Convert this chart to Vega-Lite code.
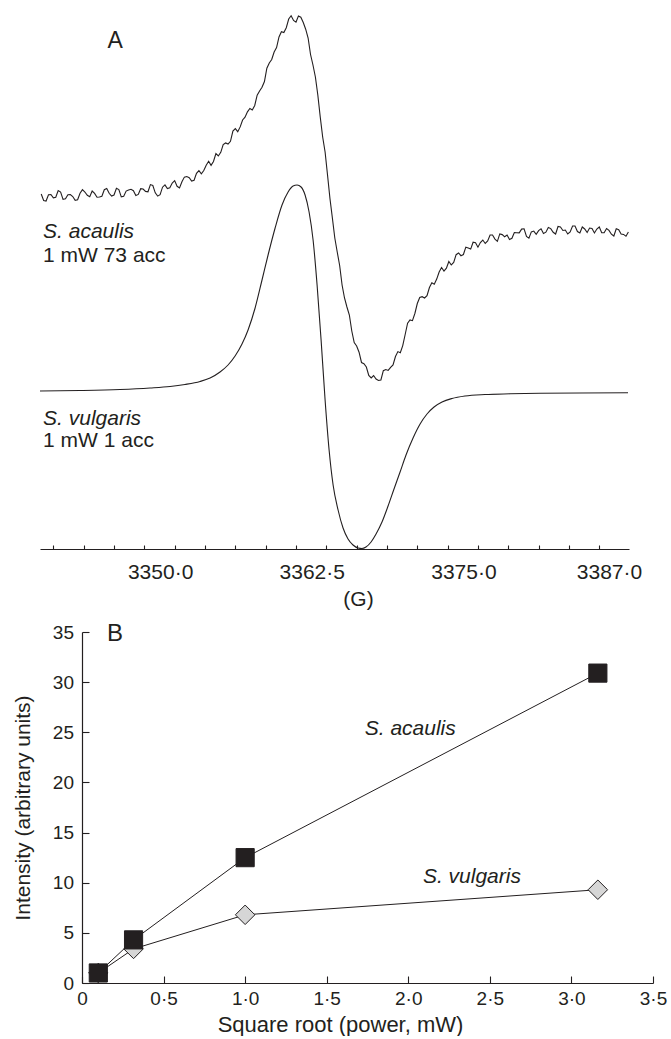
{
  "$schema": "https://vega.github.io/schema/vega-lite/v6.json",
  "background": "white",
  "padding": {"left": 12, "top": 8, "right": 0, "bottom": 0},
  "spacing": 12,
  "config": {
    "view": {"stroke": null},
    "font": "Liberation Sans",
    "text": {"font": "Liberation Sans", "color": "#231f20"},
    "axis": {"labelFont": "Liberation Sans", "titleFont": "Liberation Sans", "domainColor": "#231f20", "tickColor": "#231f20", "labelColor": "#231f20", "titleColor": "#231f20", "grid": false, "titleFontWeight": "normal", "labelFlush": false, "labelOverlap": false, "domainWidth": 1.2, "tickWidth": 1.1}
  },
  "datasets": {
    "acaulis": [
      {"G": 3340.2, "signal": 355}, {"G": 3340.4, "signal": 348.5}, {"G": 3340.6, "signal": 348}, {"G": 3340.8, "signal": 354.2},
      {"G": 3341.0, "signal": 354.5}, {"G": 3341.2, "signal": 351.1}, {"G": 3341.4, "signal": 351.7}, {"G": 3341.6, "signal": 358.4},
      {"G": 3341.8, "signal": 357}, {"G": 3342.0, "signal": 349.6}, {"G": 3342.2, "signal": 350.2}, {"G": 3342.4, "signal": 354.3},
      {"G": 3342.6, "signal": 354.4}, {"G": 3342.8, "signal": 352.5}, {"G": 3343.0, "signal": 348.6}, {"G": 3343.2, "signal": 349.2},
      {"G": 3343.4, "signal": 355.8}, {"G": 3343.6, "signal": 359.4}, {"G": 3343.8, "signal": 357}, {"G": 3344.0, "signal": 353.7},
      {"G": 3344.2, "signal": 352.3}, {"G": 3344.4, "signal": 358}, {"G": 3344.6, "signal": 355.6}, {"G": 3344.8, "signal": 351.8},
      {"G": 3345.0, "signal": 352}, {"G": 3345.2, "signal": 352.7}, {"G": 3345.4, "signal": 359.3}, {"G": 3345.6, "signal": 360.5},
      {"G": 3345.8, "signal": 355.7}, {"G": 3346.0, "signal": 352.9}, {"G": 3346.2, "signal": 354}, {"G": 3346.4, "signal": 360.7},
      {"G": 3346.6, "signal": 359.4}, {"G": 3346.8, "signal": 352.1}, {"G": 3347.0, "signal": 352.7}, {"G": 3347.2, "signal": 357.9},
      {"G": 3347.4, "signal": 359}, {"G": 3347.6, "signal": 359.7}, {"G": 3347.8, "signal": 358.3}, {"G": 3348.0, "signal": 353.5},
      {"G": 3348.2, "signal": 354.6}, {"G": 3348.4, "signal": 360.3}, {"G": 3348.6, "signal": 360}, {"G": 3348.8, "signal": 357.6},
      {"G": 3349.0, "signal": 357.2}, {"G": 3349.2, "signal": 364.4}, {"G": 3349.4, "signal": 363.5}, {"G": 3349.6, "signal": 356.2},
      {"G": 3349.8, "signal": 352.9}, {"G": 3350.0, "signal": 354.4}, {"G": 3350.2, "signal": 361.8}, {"G": 3350.4, "signal": 364.1},
      {"G": 3350.6, "signal": 360.4}, {"G": 3350.8, "signal": 361.2}, {"G": 3351.0, "signal": 366}, {"G": 3351.2, "signal": 368.4},
      {"G": 3351.4, "signal": 362.7}, {"G": 3351.6, "signal": 361}, {"G": 3351.8, "signal": 367.3}, {"G": 3352.0, "signal": 371.9},
      {"G": 3352.2, "signal": 372.5}, {"G": 3352.4, "signal": 371.3}, {"G": 3352.6, "signal": 368}, {"G": 3352.8, "signal": 368.8},
      {"G": 3353.0, "signal": 375.6}, {"G": 3353.2, "signal": 378.4}, {"G": 3353.4, "signal": 375.2}, {"G": 3353.6, "signal": 378.5},
      {"G": 3353.8, "signal": 383.8}, {"G": 3354.0, "signal": 387.7}, {"G": 3354.2, "signal": 383.6}, {"G": 3354.4, "signal": 387.5},
      {"G": 3354.6, "signal": 395.4}, {"G": 3354.8, "signal": 393}, {"G": 3355.0, "signal": 396.7}, {"G": 3355.2, "signal": 404.4},
      {"G": 3355.4, "signal": 406}, {"G": 3355.6, "signal": 404.9}, {"G": 3355.8, "signal": 407.7}, {"G": 3356.0, "signal": 418},
      {"G": 3356.2, "signal": 420.4}, {"G": 3356.4, "signal": 417.3}, {"G": 3356.6, "signal": 422.1}, {"G": 3356.8, "signal": 429},
      {"G": 3357.0, "signal": 431.8}, {"G": 3357.2, "signal": 437.2}, {"G": 3357.4, "signal": 440.5}, {"G": 3357.6, "signal": 439},
      {"G": 3357.8, "signal": 443.5}, {"G": 3358.0, "signal": 453.8}, {"G": 3358.2, "signal": 458}, {"G": 3358.4, "signal": 461.8},
      {"G": 3358.6, "signal": 467.5}, {"G": 3358.8, "signal": 480.8}, {"G": 3359.0, "signal": 486}, {"G": 3359.2, "signal": 489.5},
      {"G": 3359.4, "signal": 497}, {"G": 3359.6, "signal": 501.5}, {"G": 3359.8, "signal": 512}, {"G": 3360.0, "signal": 517.3},
      {"G": 3360.2, "signal": 516.5}, {"G": 3360.4, "signal": 521.3}, {"G": 3360.6, "signal": 530}, {"G": 3360.8, "signal": 533.3},
      {"G": 3361.0, "signal": 528.5}, {"G": 3361.2, "signal": 526.8}, {"G": 3361.4, "signal": 533}, {"G": 3361.6, "signal": 531.8},
      {"G": 3361.8, "signal": 526.5}, {"G": 3362.0, "signal": 519.8}, {"G": 3362.2, "signal": 511}, {"G": 3362.4, "signal": 494.5},
      {"G": 3362.6, "signal": 484}, {"G": 3362.8, "signal": 472}, {"G": 3363.0, "signal": 454}, {"G": 3363.2, "signal": 432},
      {"G": 3363.4, "signal": 412}, {"G": 3363.6, "signal": 397}, {"G": 3363.8, "signal": 374}, {"G": 3364.0, "signal": 350.5},
      {"G": 3364.2, "signal": 331}, {"G": 3364.4, "signal": 311}, {"G": 3364.6, "signal": 297}, {"G": 3364.8, "signal": 283.5},
      {"G": 3365.0, "signal": 264}, {"G": 3365.2, "signal": 251}, {"G": 3365.4, "signal": 242}, {"G": 3365.6, "signal": 234},
      {"G": 3365.8, "signal": 218}, {"G": 3366.0, "signal": 206.5}, {"G": 3366.2, "signal": 203}, {"G": 3366.4, "signal": 196.8},
      {"G": 3366.6, "signal": 186.5}, {"G": 3366.8, "signal": 185.3}, {"G": 3367.0, "signal": 182}, {"G": 3367.2, "signal": 173.5},
      {"G": 3367.4, "signal": 171}, {"G": 3367.6, "signal": 173.5}, {"G": 3367.8, "signal": 170}, {"G": 3368.0, "signal": 168.5},
      {"G": 3368.2, "signal": 169}, {"G": 3368.4, "signal": 178.3}, {"G": 3368.6, "signal": 179.5}, {"G": 3368.8, "signal": 178.6},
      {"G": 3369.0, "signal": 181.7}, {"G": 3369.2, "signal": 184.1}, {"G": 3369.4, "signal": 192.5}, {"G": 3369.6, "signal": 197.4},
      {"G": 3369.8, "signal": 196.3}, {"G": 3370.0, "signal": 203.4}, {"G": 3370.2, "signal": 214.5}, {"G": 3370.4, "signal": 225.8},
      {"G": 3370.6, "signal": 229}, {"G": 3370.8, "signal": 228.3}, {"G": 3371.0, "signal": 235.5}, {"G": 3371.2, "signal": 245.5},
      {"G": 3371.4, "signal": 251.5}, {"G": 3371.6, "signal": 252.3}, {"G": 3371.8, "signal": 251}, {"G": 3372.0, "signal": 253.3},
      {"G": 3372.2, "signal": 261.5}, {"G": 3372.4, "signal": 266.2}, {"G": 3372.6, "signal": 264.8}, {"G": 3372.8, "signal": 269.9},
      {"G": 3373.0, "signal": 277}, {"G": 3373.2, "signal": 281.5}, {"G": 3373.4, "signal": 278}, {"G": 3373.6, "signal": 280.8},
      {"G": 3373.8, "signal": 287.5}, {"G": 3374.0, "signal": 284}, {"G": 3374.2, "signal": 286.5}, {"G": 3374.4, "signal": 294.3},
      {"G": 3374.6, "signal": 296}, {"G": 3374.8, "signal": 293.3}, {"G": 3375.0, "signal": 294.5}, {"G": 3375.2, "signal": 301.8},
      {"G": 3375.4, "signal": 301}, {"G": 3375.6, "signal": 299.9}, {"G": 3375.8, "signal": 306.8}, {"G": 3376.0, "signal": 306.3},
      {"G": 3376.2, "signal": 301.8}, {"G": 3376.4, "signal": 306.4}, {"G": 3376.6, "signal": 309}, {"G": 3376.8, "signal": 305.5},
      {"G": 3377.0, "signal": 308}, {"G": 3377.2, "signal": 314}, {"G": 3377.4, "signal": 314}, {"G": 3377.6, "signal": 309.9},
      {"G": 3377.8, "signal": 307.7}, {"G": 3378.0, "signal": 315.1}, {"G": 3378.2, "signal": 314.4}, {"G": 3378.4, "signal": 312.2},
      {"G": 3378.6, "signal": 314}, {"G": 3378.8, "signal": 309.4}, {"G": 3379.0, "signal": 310.7}, {"G": 3379.2, "signal": 316.5},
      {"G": 3379.4, "signal": 316.3}, {"G": 3379.6, "signal": 316.1}, {"G": 3379.8, "signal": 319.9}, {"G": 3380.0, "signal": 320.2},
      {"G": 3380.2, "signal": 312.5}, {"G": 3380.4, "signal": 310.8}, {"G": 3380.6, "signal": 317.1}, {"G": 3380.8, "signal": 317.9},
      {"G": 3381.0, "signal": 314.6}, {"G": 3381.2, "signal": 318.4}, {"G": 3381.4, "signal": 320.2}, {"G": 3381.6, "signal": 315.5},
      {"G": 3381.8, "signal": 316.8}, {"G": 3382.0, "signal": 321.6}, {"G": 3382.2, "signal": 320.4}, {"G": 3382.4, "signal": 316.7},
      {"G": 3382.6, "signal": 315}, {"G": 3382.8, "signal": 322.5}, {"G": 3383.0, "signal": 322}, {"G": 3383.2, "signal": 318.5},
      {"G": 3383.4, "signal": 319}, {"G": 3383.6, "signal": 315}, {"G": 3383.8, "signal": 317}, {"G": 3384.0, "signal": 323},
      {"G": 3384.2, "signal": 323}, {"G": 3384.4, "signal": 317.5}, {"G": 3384.6, "signal": 316}, {"G": 3384.8, "signal": 322},
      {"G": 3385.0, "signal": 320}, {"G": 3385.2, "signal": 316.5}, {"G": 3385.4, "signal": 321}, {"G": 3385.6, "signal": 320.5},
      {"G": 3385.8, "signal": 316}, {"G": 3386.0, "signal": 320}, {"G": 3386.2, "signal": 322}, {"G": 3386.4, "signal": 316.2},
      {"G": 3386.6, "signal": 316.3}, {"G": 3386.8, "signal": 320.5}, {"G": 3387.0, "signal": 318.6}, {"G": 3387.2, "signal": 314.8},
      {"G": 3387.4, "signal": 313}, {"G": 3387.6, "signal": 320.2}, {"G": 3387.8, "signal": 319.3}, {"G": 3388.0, "signal": 315},
      {"G": 3388.2, "signal": 314.6}, {"G": 3388.4, "signal": 312.8}, {"G": 3388.6, "signal": 317}
    ],
    "vulgaris": [
      {"G": 3340.10, "signal": 158}, {"G": 3343.40, "signal": 158.5}, {"G": 3346.70, "signal": 159.5}, {"G": 3349.17, "signal": 161},
      {"G": 3350.82, "signal": 162.5}, {"G": 3352.05, "signal": 164.5}, {"G": 3353.29, "signal": 167.5}, {"G": 3354.12, "signal": 171},
      {"G": 3354.94, "signal": 177}, {"G": 3355.60, "signal": 184}, {"G": 3356.18, "signal": 193}, {"G": 3356.75, "signal": 205},
      {"G": 3357.25, "signal": 219}, {"G": 3357.83, "signal": 241}, {"G": 3358.40, "signal": 269}, {"G": 3358.90, "signal": 294},
      {"G": 3359.48, "signal": 321}, {"G": 3360.05, "signal": 344}, {"G": 3360.55, "signal": 357}, {"G": 3360.96, "signal": 363},
      {"G": 3361.29, "signal": 364}, {"G": 3361.62, "signal": 362}, {"G": 3361.95, "signal": 354}, {"G": 3362.28, "signal": 337},
      {"G": 3362.61, "signal": 309}, {"G": 3362.94, "signal": 264}, {"G": 3363.27, "signal": 209}, {"G": 3363.60, "signal": 149},
      {"G": 3363.93, "signal": 99}, {"G": 3364.26, "signal": 64}, {"G": 3364.67, "signal": 39}, {"G": 3365.08, "signal": 21},
      {"G": 3365.49, "signal": 10}, {"G": 3365.90, "signal": 4}, {"G": 3366.32, "signal": 1}, {"G": 3366.64, "signal": 0.5},
      {"G": 3366.97, "signal": 2}, {"G": 3367.39, "signal": 7}, {"G": 3367.80, "signal": 15}, {"G": 3368.29, "signal": 27},
      {"G": 3368.79, "signal": 43}, {"G": 3369.28, "signal": 60}, {"G": 3369.78, "signal": 77}, {"G": 3370.27, "signal": 94},
      {"G": 3370.85, "signal": 111}, {"G": 3371.43, "signal": 125}, {"G": 3372.00, "signal": 135}, {"G": 3372.58, "signal": 142},
      {"G": 3373.24, "signal": 147}, {"G": 3374.06, "signal": 150.5}, {"G": 3375.13, "signal": 153}, {"G": 3376.78, "signal": 154.5},
      {"G": 3378.84, "signal": 155.2}, {"G": 3381.32, "signal": 155.7}, {"G": 3384.61, "signal": 156}, {"G": 3388.57, "signal": 156.3}
    ],
    "notesA": [
      {"text": "A", "G": 3346.29, "signal": 508, "kind": "panel"},
      {"text": "S. acaulis", "G": 3340.35, "signal": 317, "kind": "species"},
      {"text": "1 mW 73 acc", "G": 3340.35, "signal": 293, "kind": "setting"},
      {"text": "S. vulgaris", "G": 3340.35, "signal": 130, "kind": "species"},
      {"text": "1 mW 1 acc", "G": 3340.35, "signal": 108, "kind": "setting"}
    ],
    "intensity": [
      {"species": "S. acaulis", "sqrt_power": 0.1, "intensity": 1.0},
      {"species": "S. acaulis", "sqrt_power": 0.316, "intensity": 4.3},
      {"species": "S. acaulis", "sqrt_power": 1.0, "intensity": 12.5},
      {"species": "S. acaulis", "sqrt_power": 3.162, "intensity": 30.9},
      {"species": "S. vulgaris", "sqrt_power": 0.1, "intensity": 1.0},
      {"species": "S. vulgaris", "sqrt_power": 0.316, "intensity": 3.4},
      {"species": "S. vulgaris", "sqrt_power": 1.0, "intensity": 6.8},
      {"species": "S. vulgaris", "sqrt_power": 3.162, "intensity": 9.3}
    ],
    "notesB": [
      {"text": "B", "sqrt_power": 0.2025, "intensity": 34.83, "kind": "panel"},
      {"text": "S. acaulis", "sqrt_power": 2.012, "intensity": 25.35, "kind": "species"},
      {"text": "S. vulgaris", "sqrt_power": 2.39, "intensity": 10.6, "kind": "species"}
    ]
  },
  "vconcat": [
    {
      "width": 547,
      "height": 541,
      "resolve": {"axis": {"x": "independent"}},
      "layer": [
        {
          "data": {"name": "acaulis"},
          "mark": {"type": "line", "color": "#231f20", "strokeWidth": 1.1},
          "encoding": {
            "x": {"field": "G", "type": "quantitative", "scale": {"domain": [3340.1, 3388.65], "range": [-42, 547], "nice": false, "zero": false},
              "axis": {"orient": "bottom", "values": [3341.2, 3343.7, 3346.2, 3348.7, 3351.2, 3353.7, 3356.2, 3358.7, 3361.2, 3363.7, 3366.2, 3368.7, 3371.2, 3373.7, 3376.2, 3378.7, 3381.2, 3383.7, 3386.2], "labels": false, "domain": true, "ticks": true, "tickSize": -4, "title": null}},
            "y": {"field": "signal", "type": "quantitative", "scale": {"domain": [0, 541], "nice": false, "zero": false}, "axis": null}
          }
        },
        {
          "data": {"name": "vulgaris"},
          "mark": {"type": "line", "color": "#231f20", "strokeWidth": 1.1, "interpolate": "monotone"},
          "encoding": {
            "x": {"field": "G", "type": "quantitative", "scale": {"domain": [3340.1, 3388.65], "range": [-42, 547], "nice": false, "zero": false},
              "axis": {"orient": "bottom", "values": [3350, 3362.5, 3375, 3387], "labelExpr": "replace(format(datum.value, '.1f'), '.', '·')", "ticks": false, "tickSize": 0, "domain": false, "labelFontSize": 21, "labelPadding": 12, "title": "(G)", "titleFontSize": 21, "titlePadding": 6, "titleX": 276}},
            "y": {"field": "signal", "type": "quantitative", "scale": {"domain": [0, 541], "nice": false, "zero": false}, "axis": null}
          }
        },
        {
          "data": {"name": "notesA"},
          "transform": [{"filter": "datum.kind == 'panel'"}],
          "mark": {"type": "text", "fontSize": 23, "align": "center", "baseline": "middle", "color": "#231f20"},
          "encoding": {
            "x": {"field": "G", "type": "quantitative", "axis": null},
            "y": {"field": "signal", "type": "quantitative", "axis": null},
            "text": {"field": "text"}
          }
        },
        {
          "data": {"name": "notesA"},
          "transform": [{"filter": "datum.kind == 'species'"}],
          "mark": {"type": "text", "fontSize": 21, "fontStyle": "italic", "align": "left", "baseline": "middle", "color": "#231f20"},
          "encoding": {
            "x": {"field": "G", "type": "quantitative", "axis": null},
            "y": {"field": "signal", "type": "quantitative", "axis": null},
            "text": {"field": "text"}
          }
        },
        {
          "data": {"name": "notesA"},
          "transform": [{"filter": "datum.kind == 'setting'"}],
          "mark": {"type": "text", "fontSize": 21, "align": "left", "baseline": "middle", "color": "#231f20"},
          "encoding": {
            "x": {"field": "G", "type": "quantitative", "axis": null},
            "y": {"field": "signal", "type": "quantitative", "axis": null},
            "text": {"field": "text"}
          }
        }
      ]
    },
    {
      "width": 571,
      "height": 351,
      "layer": [
        {
          "data": {"name": "intensity"},
          "mark": {"type": "line", "color": "#231f20", "strokeWidth": 1},
          "encoding": {
            "x": {"field": "sqrt_power", "type": "quantitative", "scale": {"domain": [0, 3.5], "nice": false},
              "axis": {"values": [0, 0.5, 1, 1.5, 2, 2.5, 3, 3.5], "labelExpr": "datum.value == 0 ? '0' : replace(format(datum.value, '.1f'), '.', '·')", "tickSize": -7, "labelPadding": 13.5, "labelFontSize": 19, "title": "Square root (power, mW)", "titleFontSize": 22, "titlePadding": 6, "titleX": 258}},
            "y": {"field": "intensity", "type": "quantitative", "scale": {"domain": [0, 35], "nice": false},
              "axis": {"values": [0, 5, 10, 15, 20, 25, 30, 35], "tickSize": -7, "labelPadding": 15.5, "labelFontSize": 19, "title": "Intensity (arbitrary units)", "titleFontSize": 21, "titlePadding": 19}},
            "detail": {"field": "species"}
          }
        },
        {
          "data": {"name": "intensity"},
          "transform": [{"filter": "datum.species == 'S. vulgaris'"}],
          "mark": {"type": "point", "shape": "diamond", "filled": true, "fill": "#d6d6d6", "stroke": "#231f20", "strokeWidth": 1, "size": 380, "opacity": 1},
          "encoding": {
            "x": {"field": "sqrt_power", "type": "quantitative"},
            "y": {"field": "intensity", "type": "quantitative"}
          }
        },
        {
          "data": {"name": "intensity"},
          "transform": [{"filter": "datum.species == 'S. acaulis'"}],
          "mark": {"type": "point", "shape": "square", "filled": true, "fill": "#231f20", "stroke": "#231f20", "strokeWidth": 1, "size": 330, "opacity": 1},
          "encoding": {
            "x": {"field": "sqrt_power", "type": "quantitative"},
            "y": {"field": "intensity", "type": "quantitative"}
          }
        },
        {
          "data": {"name": "notesB"},
          "transform": [{"filter": "datum.kind == 'panel'"}],
          "mark": {"type": "text", "fontSize": 24, "align": "center", "baseline": "middle", "color": "#231f20"},
          "encoding": {
            "x": {"field": "sqrt_power", "type": "quantitative"},
            "y": {"field": "intensity", "type": "quantitative"},
            "text": {"field": "text"}
          }
        },
        {
          "data": {"name": "notesB"},
          "transform": [{"filter": "datum.kind == 'species'"}],
          "mark": {"type": "text", "fontSize": 21, "fontStyle": "italic", "align": "center", "baseline": "middle", "color": "#231f20"},
          "encoding": {
            "x": {"field": "sqrt_power", "type": "quantitative"},
            "y": {"field": "intensity", "type": "quantitative"},
            "text": {"field": "text"}
          }
        }
      ]
    }
  ]
}
